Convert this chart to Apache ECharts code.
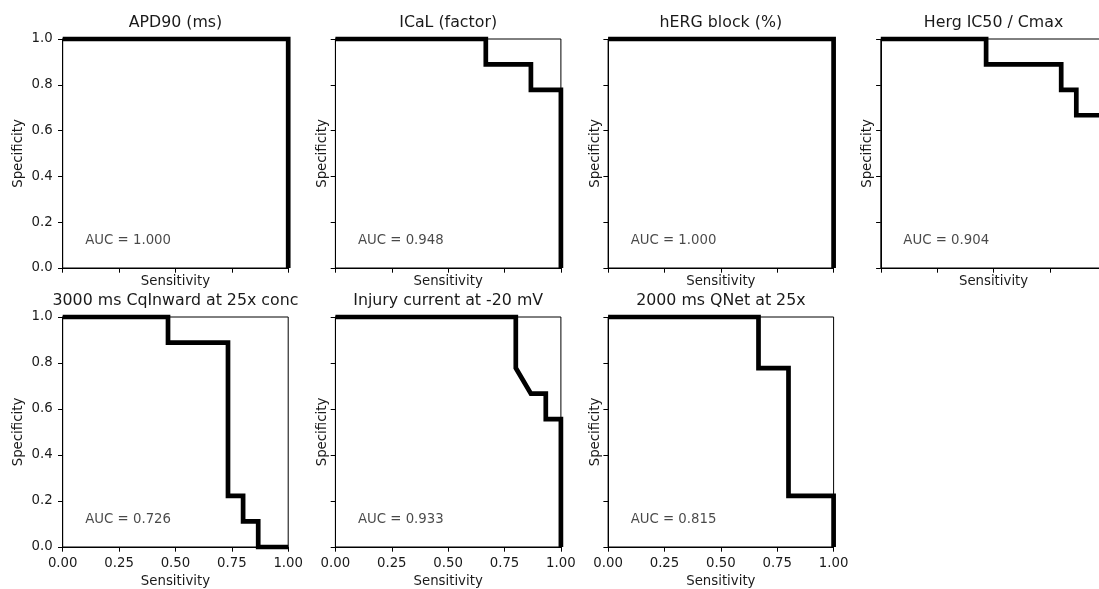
<!DOCTYPE html>
<html>
<head>
<meta charset="utf-8">
<script src="https://cdn.jsdelivr.net/npm/echarts@6/dist/echarts.min.js"></script>
<style>
html,body{margin:0;padding:0;background:#fff;}
#chart{width:1099px;height:589px;}
</style>
</head>
<body>
<div id="chart"></div>
<script>
// ---- data ----
const titles = ["APD90 (ms)", "ICaL (factor)", "hERG block (%)", "Herg IC50 / Cmax",
                "3000 ms CqInward at 25x conc", "Injury current at -20 mV", "2000 ms QNet at 25x"];
const aucs = ["1.000", "0.948", "1.000", "0.904", "0.726", "0.933", "0.815"];
const xTicks = ["0.00", "0.25", "0.50", "0.75", "1.00"];
const yTicks = ["0.0", "0.2", "0.4", "0.6", "0.8", "1.0"];

const sensApd90   = [0, 1, 1];
const specApd90   = [1, 1, 0];
const sensIcal    = [0, 0.667, 0.667, 0.867, 0.867, 1, 1];
const specIcal    = [1, 1, 0.889, 0.889, 0.778, 0.778, 0];
const sensHerg    = [0, 1, 1];
const specHerg    = [1, 1, 0];
const sensIc50    = [0, 0.467, 0.467, 0.8, 0.8, 0.867, 0.867, 1, 1];
const specIc50    = [1, 1, 0.889, 0.889, 0.778, 0.778, 0.667, 0.667, 0];
const sensCq      = [0, 0.467, 0.467, 0.733, 0.733, 0.8, 0.8, 0.867, 0.867, 1];
const specCq      = [1, 1, 0.889, 0.889, 0.222, 0.222, 0.111, 0.111, 0, 0];
const sensInjury  = [0, 0.8, 0.8, 0.867, 0.933, 0.933, 1, 1];
const specInjury  = [1, 1, 0.778, 0.667, 0.667, 0.556, 0.556, 0];
const sensQnet    = [0, 0.667, 0.667, 0.8, 0.8, 1, 1];
const specQnet    = [1, 1, 0.778, 0.778, 0.222, 0.222, 0];

const sensList = [sensApd90, sensIcal, sensHerg, sensIc50, sensCq, sensInjury, sensQnet];
const specList = [specApd90, specIcal, specHerg, specIc50, specCq, specInjury, specQnet];
const aucX = 0.1, aucY = 0.1;

// ---- layout ----
const colLeft = [62.7, 335.4, 608.1, 880.8];
const rowTop = [39, 317];
const rowH = [229, 230];
const W = 225.5;
const pos = [[0,0],[0,1],[0,2],[0,3],[1,0],[1,1],[1,2]];
const txt = '#1a1a1a';
const FONT = 'DejaVu Sans';
const FS = 13.3;

const grid = [], xAxis = [], yAxis = [], series = [], title = [];
titles.forEach((t, i) => {
  const [r, c] = pos[i];
  grid.push({left: colLeft[c], top: rowTop[r], width: W, height: rowH[r],
             outerBoundsMode: 'none', containLabel: false,
             show: true, borderColor: '#000', borderWidth: 1, backgroundColor: 'transparent'});
  title.push({text: t, left: colLeft[c] + W / 2, top: rowTop[r] - 15.8, padding: 0,
              textAlign: 'center', textVerticalAlign: 'middle',
              textStyle: {fontFamily: FONT, fontSize: 15.8, fontWeight: 'normal', color: txt}});
  const showX = r === 1;
  const showY = c === 0;
  xAxis.push({type: 'value', gridIndex: i, min: 0, max: 1, interval: 0.25,
    name: 'Sensitivity', nameLocation: 'middle', nameGap: showX ? 28.3 : 6.7,
    nameTextStyle: {fontFamily: FONT, fontSize: FS, color: txt},
    axisLine: {show: true, lineStyle: {color: '#000', width: 1}},
    axisTick: {show: true, length: 4.7, lineStyle: {color: '#000', width: 1}},
    axisLabel: {show: showX, margin: 10, fontFamily: FONT, fontSize: FS, color: txt,
      formatter: v => xTicks[Math.round(v / 0.25)]},
    splitLine: {show: false}});
  yAxis.push({type: 'value', gridIndex: i, min: 0, max: 1, interval: 0.2,
    name: 'Specificity', nameLocation: 'middle', nameGap: showY ? 37.7 : 6.3, nameRotate: 90,
    nameTextStyle: {fontFamily: FONT, fontSize: FS, color: txt},
    axisLine: {show: true, lineStyle: {color: '#000', width: 1}},
    axisTick: {show: true, length: 4.7, lineStyle: {color: '#000', width: 1}},
    axisLabel: {show: showY, margin: 10, fontFamily: FONT, fontSize: FS, color: txt,
      formatter: v => yTicks[Math.round(v / 0.2)]},
    splitLine: {show: false}});
  series.push({type: 'line', xAxisIndex: i, yAxisIndex: i, symbol: 'none', clip: false,
    animation: false,
    lineStyle: {color: '#000', width: 4.7, join: 'miter'},
    data: sensList[i].map((x, k) => [x, specList[i][k]])});
  series.push({type: 'scatter', xAxisIndex: i, yAxisIndex: i, symbolSize: 0, animation: false,
    silent: true,
    data: [[aucX, aucY]],
    label: {show: true, position: [0, 0], align: 'left', verticalAlign: 'middle', offset: [0, -4.6],
      formatter: 'AUC = ' + aucs[i], fontFamily: FONT, fontSize: FS, color: txt}});
});

const chart = echarts.init(document.getElementById('chart'), null, {renderer: 'canvas'});
chart.setOption({animation: false, backgroundColor: '#fff', title, grid, xAxis, yAxis, series});
</script>
</body>
</html>
